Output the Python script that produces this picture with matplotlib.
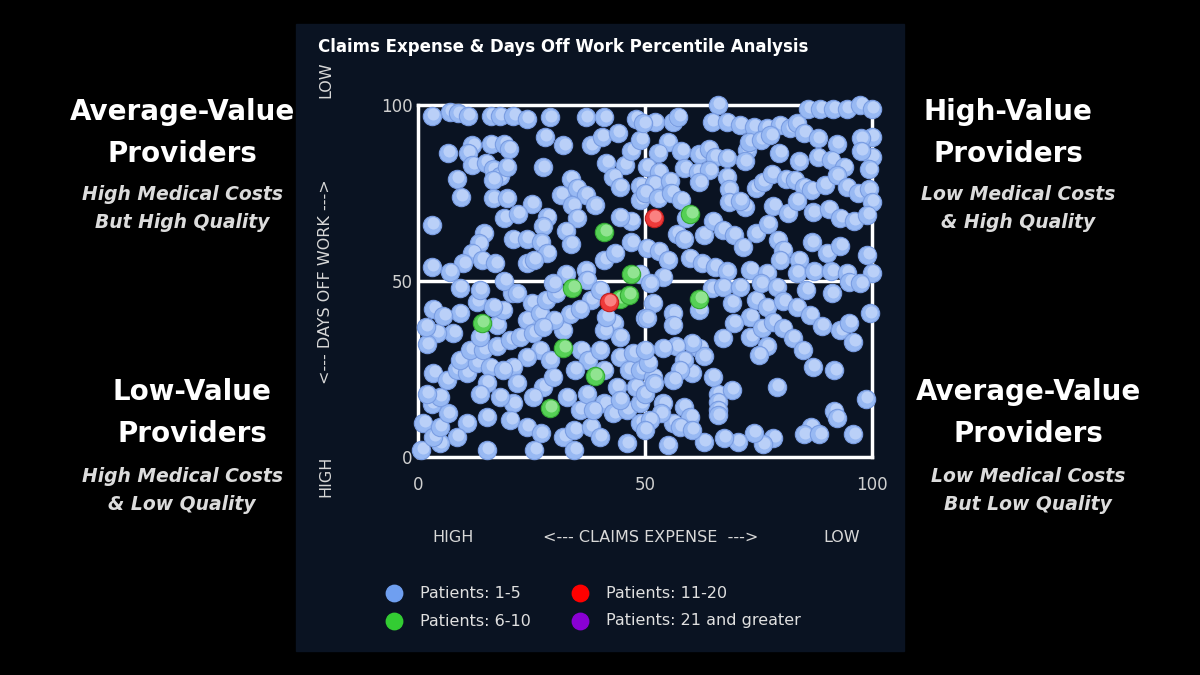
import numpy as np
import matplotlib
matplotlib.use("Agg")
import matplotlib.pyplot as plt
from matplotlib.patches import Rectangle

# percentile points (claims expense, days off work)
blue_pts = [
    (3,97),(7,98),(8.8,97.6),(11,97),(16,97),(18,97),(21,97),(24,96),(29,96.5),(37,96.5),(41,96.5),(48,96),
    (28,91),(32,88.5),(38,88.5),(40.5,91),(44,92),(16,89),(19,89),(20,87.5),(12,88.5),(11,86.3),(6.5,86.3),
    (12,83),(15,83.5),(16.5,81.7),(18,79.7),(19.5,82.5),(16.5,78.7),(8.5,79),(9.5,74),(27.5,82.3),(16.5,73.5),
    (19.5,73.5),(25,72),(19,68),(22,69),(28.5,68.3),(33.6,79),(31.5,74.5),(35,76.5),(37,74.5),(39,71.5),
    (34,71.5),(35,67.9),(32.5,64.3),(33.7,60.5),(27.5,65.5),(21,62),(24,62),(27,61),(28.5,58),(14.6,63.5),
    (13.5,60.7),(12,58),(10,55),(14,56),(17,55),(3,66),(3,54),(7,52.5),(24,55),(25.5,56),(41,56),(43.5,58),
    (41.5,83.5),(45.5,83),(43,79.5),(44.5,76.8),(47,87),(49,90),(49,77),(49,73),(47,67),(44.5,68.3),(47,61),
    (37,53),(32.5,52),
    (66,100),(64.7,95.3),(68,95.3),(70.9,94.3),(73.9,93.8),(76.8,93.4),(79.7,94.3),(82,93.4),(83.5,94.8),
    (86,99),(88.6,99),(91.5,99),(94.5,99),(97.4,100),(100,99),(52.2,95.3),(56.2,95.3),(57.3,96.7),(49.6,94.8),
    (85,92),(88,90.5),(92.3,89),(100,91),(97.5,90.5),(55,89.5),(58,87),(62,86),(64,87.5),(65.4,85.3),(68,85),
    (52.9,86.3),(50.4,82.5),(53,81),(58.7,82),(61.6,81),(64.2,81.4),(72.4,87.2),(73,89.5),(75.5,90),(77.6,91.4),
    (79.6,86.3),(72,84),(83.9,84),(88,85.3),(91,84.4),(93.9,82.5),(100,85.3),(97.5,87),(99.4,81.7),(52,77.6),
    (55.5,78.5),(62,78),(68,79.5),(68.5,76),(68.5,72.5),(74.4,76.4),(76,78.2),(78,80.5),(81,79),(83,78.7),
    (85,76.8),(86.6,75.8),(89.6,77.3),(92.3,80),(94.5,76.8),(97,75),(99.3,76),(100,72.4),(50,75),(52.9,73.5),
    (55.8,75),(58,73),(59,68),(72,71.1),(70.9,72.7),(78.3,71.3),(81.5,69.2),(83.5,72.7),(87,69.5),(90.5,70.5),
    (93,68),(96,67),(99,68.8),(57,63.4),(58.5,62),(63,63),(65,67),(67.2,64.5),(69.5,63),(71.6,59.7),(74.4,63.5),
    (77,66.3),(79.2,61.6),(80.5,58.8),(83.9,56),(86.8,61),(90,58),(93,60),(99,57.5),(50.4,59.4),(53,58.5),
    (55,56),(59.9,56.5),(62.5,55),(65.4,54),(68,52.7),(73.2,53.2),(79.7,56),(76.8,52.2),(83.5,52.2),(87.2,52.7),
    (91,52.7),(94.5,52.2),(100,52.2),(49,52),
    (3.4,42),(9.2,48),(13,44),(13.6,47.5),(7.8,35.3),(4.1,35.3),(1.9,32),(17.3,37.5),(18.8,41.7),(16.6,42.7),
    (20.8,46.5),(19,50),(21.7,46.5),(25,43.7),(23.9,38.9),(26.8,40.8),(28.3,44.6),(30.5,46.5),(29.8,49.3),
    (37.2,50.3),(38,44.6),(40,47.4),(50,39.5),(43.1,38),(44.5,34.2),(41,36),(32,36),(33.5,40.5),(35.7,42),
    (36,30.5),(37.5,27.6),(34.5,24.7),(41,24.7),(44.5,28.5),(47.4,29.5),(46.5,24.7),(43.8,20),(41,15.2),
    (43,12.4),(46,13.4),(49,15.2),(49,9.6),(46,3.9),(27.6,20),(25.4,17),(21,15.2),(20.3,10.5),(24,8.6),(27,6.7),
    (32,5.8),(34.4,7.7),(38,8.6),(40,5.8),(34.4,2),(25.6,2),(15.2,2),(15.2,11.5),(10.7,9.6),(8.5,5.8),(4.8,3.9),
    (1.2,9.6),(0.7,2),(3.4,5.8),(4.8,8.6),(6.6,12.4),(3,15),(4.8,17),(2,18),(3.4,23.8),(6.3,21.9),(8.5,24.7),
    (10.7,23.8),(9.2,27.6),(13,26.7),(11.5,30.4),(14.4,30.4),(15.9,25.7),(17.3,31.4),(20.3,33.3),(22.5,34.2),
    (25.4,35.2),(26.8,30.4),(29,27.6),(23.9,28.5),(21,25.7),(18.8,24.7),(15.2,21),(13.6,18),(18,17),(21.7,21),
    (29.8,22.8),(32.8,17),(35.7,13.4),(37.2,18),(38.6,13.4),(44.5,16.2),(48,20),(49,24.7),(40,30.4),(41.5,39.8),
    (30,39),(27.6,37),(13.6,34.2),(9.2,41),(5.6,40),(1.7,37),
    (62,41.7),(54,51.2),(51.1,49.3),(51.8,43.7),(50.4,39.4),(56.2,40.8),(56.2,37.5),(64.7,47.9),(67.2,48.4),
    (69.1,43.7),(70.9,48.4),(73.2,39.9),(74.4,44.6),(75.5,49.3),(76.8,42.7),(79,48.4),(80.5,44.2),(83.5,42.7),
    (85.5,47.4),(86.4,40.4),(89,37.2),(91.2,46.5),(93,36),(95,49.8),(95,38),(95.9,32.8),(97.4,49.3),(99.5,40.8),
    (67.2,33.8),(69.5,38),(73.2,34.2),(75.7,36.6),(78.3,38.4),(80.5,36.6),(82.5,33.8),(76.8,31.4),(75,29),
    (84.7,30.5),(87,25.5),(91.7,24.6),(79,19.9),(98.7,16.5),(91.7,13.2),(92.2,11.2),(95.9,6.4),(86.5,8.6),
    (85,6.4),(88.4,6.4),(78.3,5.4),(76,3.6),(73.9,6.8),(70.4,4.4),(67.3,5.4),(63,4.4),(55,3.4),(66.1,18),
    (66.1,15.7),(66.1,13.4),(66.1,11.8),(69.1,19),(65,22.8),(60.3,23.8),(62,31),(63,28.6),(60.3,32.4),
    (56.9,31.4),(54,31),(58.5,27.6),(57.7,24.7),(56.2,21.9),(51.8,22.8),(50.7,26.7),(50,18),(52,20.9),(54,15.2),
    (58.5,14.3),(60,11.5),(56.2,9.6),(53.5,12.4),(51.1,10.5),(50,7.7),(57.7,8.6),(60.3,7.7),(50,30.5),
]
green_pts = [(41,64),(47,52),(14,38),(34,48),(44.5,45),(46.5,46),(32,31),(39,23),(29,14),(60,69),(62,45)]
red_pts = [(52,68),(42,44)]

legend_labels = ["Patients: 1-5", "Patients: 6-10", "Patients: 11-20", "Patients: 21 and greater"]
legend_colors = ["#6f9ff0", "#33cc33", "#ff0000", "#8a00d4"]

W, H = 1200, 675
fig = plt.figure(figsize=(12, 6.75), dpi=100, facecolor="black")

# overlay in pixel coords for panel, side texts and legend
bg = fig.add_axes([0, 0, 1, 1])
bg.set_xlim(0, W)
bg.set_ylim(H, 0)
bg.axis("off")
bg.add_patch(Rectangle((296, 24), 608, 627, color="#0a1322", zorder=0))

ax = fig.add_axes([418 / W, (H - 457) / H, 454 / W, 352 / H])
ax.set_facecolor("#0a1322")
ax.set_xlim(0, 100)
ax.set_ylim(0, 100)
for s in ax.spines.values():
    s.set_color("white")
    s.set_linewidth(2.5)
ax.axvline(50, color="white", lw=2.5, zorder=1)
ax.axhline(50, color="white", lw=2.5, zorder=1)
ax.set_xticks([0, 50, 100])
ax.set_yticks([0, 50, 100])
ax.tick_params(length=0, colors="#d0d0d0", labelsize=12, pad=14)
ax.tick_params(axis="y", pad=4)


def ball(x, y, base, edge, hi):
    ax.scatter([x], [y], s=175, color=base, edgecolors=edge, linewidths=0.8, zorder=3, clip_on=False)
    ax.scatter([x + 0.3], [y + 0.5], s=75, color=hi, alpha=0.75, linewidths=0, zorder=3, clip_on=False)


for x, y in blue_pts:
    ball(x, y, "#98b9f3", "#7a9de2", "#c6d8fb")
for x, y in green_pts:
    ball(x, y, "#55d055", "#34a834", "#a6eca6")
for x, y in red_pts:
    ball(x, y, "#ee3a3a", "#c02020", "#ff9a9a")

# titles and axis labels
bg.text(318, 47, "Claims Expense & Days Off Work Percentile Analysis", color="white",
        fontsize=12, fontweight="bold", va="center", ha="left")
lab = dict(color="#d8d8d8", fontsize=11.5, va="center", ha="center")
bg.text(326, 80, "LOW", rotation=90, **lab)
bg.text(326, 282, "<--- DAYS OFF WORK --->", rotation=90, **lab)
bg.text(326, 476, "HIGH", rotation=90, **lab)
bg.text(453, 537, "HIGH", **lab)
bg.text(651, 537, "<--- CLAIMS EXPENSE  --->", **lab)
bg.text(842, 537, "LOW", **lab)

# legend
for i, (lbl, col) in enumerate(zip(legend_labels, legend_colors)):
    lx = 394 if i < 2 else 580
    ly = 593 if i % 2 == 0 else 621
    bg.scatter([lx], [ly], s=140, color=col, zorder=3)
    bg.text(lx + 26, ly, lbl, color="#e0e0e0", fontsize=11.5, va="center", ha="left")

# quadrant descriptions
head = dict(color="white", fontsize=20, fontweight="bold", family="DejaVu Sans", ha="center", va="center")
sub = dict(color="#dcdcdc", fontsize=13.5, fontweight="bold", style="italic", family="DejaVu Sans",
           ha="center", va="center")
bg.text(182, 112, "Average-Value", **head)
bg.text(182, 154, "Providers", **head)
bg.text(182, 195, "High Medical Costs", **sub)
bg.text(182, 223, "But High Quality", **sub)
bg.text(192, 392, "Low-Value", **head)
bg.text(192, 434, "Providers", **head)
bg.text(182, 476, "High Medical Costs", **sub)
bg.text(182, 504, "& Low Quality", **sub)
bg.text(1008, 112, "High-Value", **head)
bg.text(1008, 154, "Providers", **head)
bg.text(1018, 195, "Low Medical Costs", **sub)
bg.text(1018, 223, "& High Quality", **sub)
bg.text(1028, 392, "Average-Value", **head)
bg.text(1028, 434, "Providers", **head)
bg.text(1028, 476, "Low Medical Costs", **sub)
bg.text(1028, 504, "But Low Quality", **sub)

fig.savefig("out.png", dpi=100, facecolor="black")
